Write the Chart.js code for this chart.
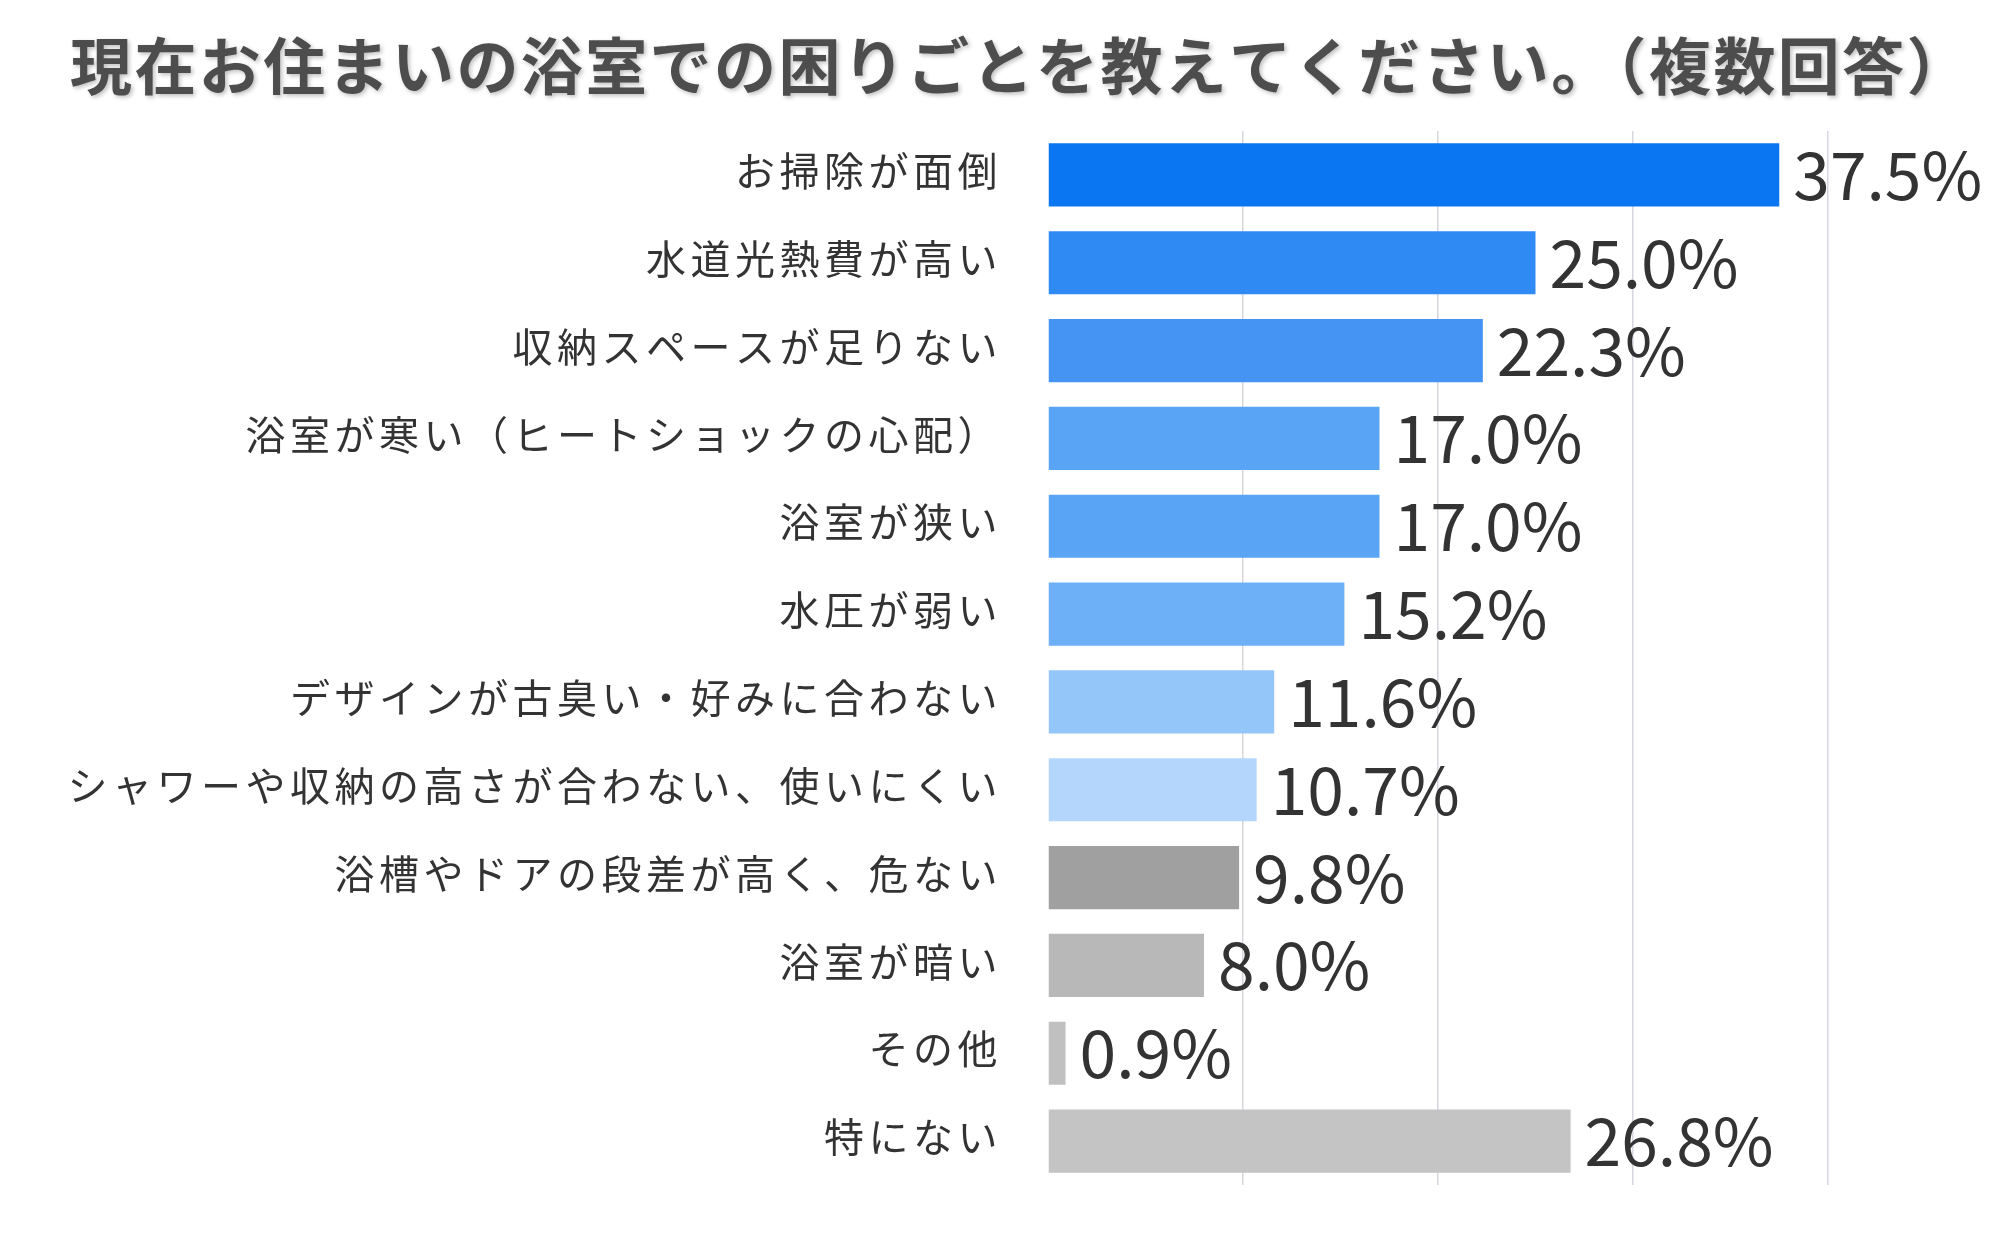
<!DOCTYPE html>
<html>
<head>
<meta charset="utf-8">
<script src="https://cdn.jsdelivr.net/npm/chart.js@4.4.1/dist/chart.umd.min.js"></script>
<style>
  html, body { margin: 0; padding: 0; background: #ffffff; }
  #wrap { width: 2012px; height: 1244px; }
</style>
</head>
<body>
<div id="wrap"><canvas id="troubleChart" width="2012" height="1244"></canvas></div>
<script>
// ─── DATA ─────────────────────────────────────────────────────────────────────
const titleText = '現在お住まいの浴室での困りごとを教えてください。（複数回答）';
const categories = [
    'お掃除が面倒',
    '水道光熱費が高い',
    '収納スペースが足りない',
    '浴室が寒い（ヒートショックの心配）',
    '浴室が狭い',
    '水圧が弱い',
    'デザインが古臭い・好みに合わない',
    'シャワーや収納の高さが合わない、使いにくい',
    '浴槽やドアの段差が高く、危ない',
    '浴室が暗い',
    'その他',
    '特にない'
];
const percentValues = [37.5, 25.0, 22.3, 17.0, 17.0, 15.2, 11.6, 10.7, 9.8, 8.0, 0.9, 26.8];
const barColors = [
    '#0b76f2', '#2f8af3', '#4594f4', '#5aa4f6', '#5aa4f6', '#6eb0f7',
    '#95c6fa', '#b4d6fc', '#a0a0a0', '#b8b8b8', '#c0c0c0', '#c4c4c4'
];
const xTicks = [0, 10, 20, 30, 40];

const JP_FONT = '"Noto Sans CJK JP", "Noto Sans", sans-serif';

// ─── PLUGINS ──────────────────────────────────────────────────────────────────
// Etiquetas de valor al final de cada barra
const valueLabels = {
    id: 'valueLabels',
    afterDatasetsDraw(chart) {
        const ctx = chart.ctx;
        const meta = chart.getDatasetMeta(0);
        ctx.save();
        ctx.letterSpacing = '0px';
        ctx.font = '400 66px ' + JP_FONT;
        ctx.fillStyle = '#333333';
        ctx.textAlign = 'left';
        ctx.textBaseline = 'middle';
        meta.data.forEach((bar, i) => {
            ctx.fillText(percentValues[i].toFixed(1) + '%', bar.x + 14, bar.y);
        });
        ctx.restore();
    }
};

// Título con sombra suave, alineado a la izquierda
const titlePlugin = {
    id: 'titlePlugin',
    afterDraw(chart) {
        const ctx = chart.ctx;
        ctx.save();
        ctx.letterSpacing = '2.4px';
        ctx.font = '700 62px ' + JP_FONT;
        ctx.textAlign = 'left';
        ctx.textBaseline = 'middle';
        ctx.shadowColor = 'rgba(0,0,0,0.25)';
        ctx.shadowBlur = 4;
        ctx.shadowOffsetX = 2;
        ctx.shadowOffsetY = 2;
        ctx.fillStyle = '#4d4d4d';
        ctx.fillText(titleText, 70, 66);
        ctx.restore();
    }
};

// Espaciado de letras en las categorías
const letterSpacing = {
    id: 'letterSpacing',
    beforeDraw(chart) { chart.ctx.letterSpacing = '4.5px'; },
    afterDatasetsDraw(chart) { chart.ctx.letterSpacing = '0px'; }
};

// ─── CHART ────────────────────────────────────────────────────────────────────
const ctx = document.getElementById('troubleChart').getContext('2d');
new Chart(ctx, {
    type: 'bar',
    data: {
        labels: categories,
        datasets: [{
            data: percentValues,
            backgroundColor: barColors,
            borderWidth: 0,
            categoryPercentage: 1.0,
            barPercentage: 0.72
        }]
    },
    options: {
        indexAxis: 'y',
        responsive: false,
        animation: false,
        devicePixelRatio: 1,
        layout: { padding: { top: 131, right: 184, bottom: 59, left: 0 } },
        plugins: {
            legend: { display: false },
            tooltip: { enabled: false }
        },
        scales: {
            x: {
                min: 0,
                max: 40,
                afterBuildTicks: scale => { scale.ticks = xTicks.map(v => ({ value: v })); },
                ticks: { display: false },
                border: { display: false },
                grid: {
                    drawTicks: false,
                    lineWidth: 1.5,
                    color: c => c.tick && c.tick.value === 0 ? 'rgba(0,0,0,0)' : '#d6d6e0'
                },
                afterFit: scale => { scale.height = 0; scale.paddingLeft = 0; scale.paddingRight = 0; }
            },
            y: {
                border: { display: false },
                grid: { display: false, drawTicks: false },
                ticks: {
                    color: '#333333',
                    padding: 46,
                    labelOffset: -4,
                    autoSkip: false,
                    font: { family: JP_FONT, size: 40, weight: '400' }
                },
                afterFit: scale => { scale.width = 1048; scale.paddingTop = 0; scale.paddingBottom = 0; }
            }
        }
    },
    plugins: [letterSpacing, valueLabels, titlePlugin]
});
</script>
</body>
</html>
